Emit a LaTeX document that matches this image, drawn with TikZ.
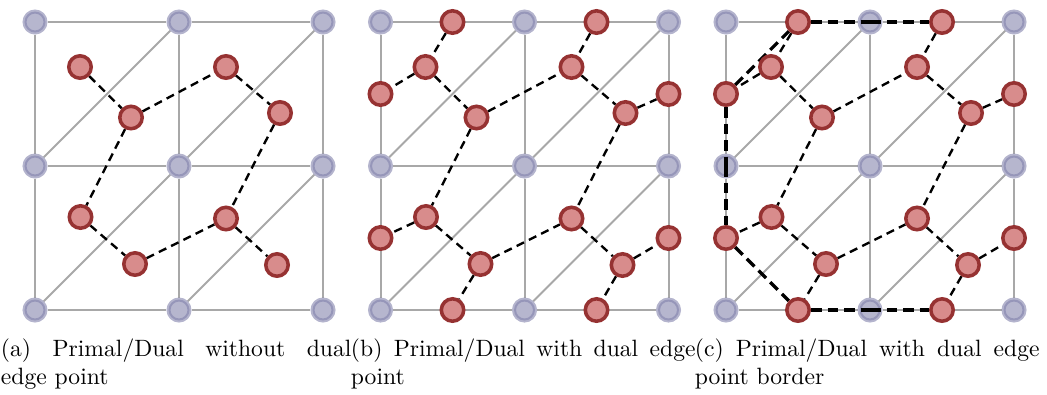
\documentclass[tikz,border=0pt]{standalone}
\pgfdeclarelayer{gridlayer}
\pgfdeclarelayer{primlayer}
\pgfsetlayers{gridlayer,primlayer,main}
\definecolor{primfill}{RGB}{182,182,206}
\definecolor{primdraw}{RGB}{130,130,172}
\definecolor{dualfill}{RGB}{216,140,140}
\definecolor{dualdraw}{RGB}{150,50,50}
\definecolor{gridgray}{RGB}{168,168,168}
\tikzset{
  primal/.style={circle, inner sep=0pt, minimum size=8.9pt, fill=primfill, draw=primdraw, draw opacity=0.6, line width=1.7pt},
  dualpt/.style={circle, inner sep=0pt, minimum size=9.5pt, fill=dualfill, draw=dualdraw, line width=1.5pt},
  gridline/.style={draw=gridgray, line width=0.85pt},
  dualedge/.style={draw=black, line width=1pt, dash pattern=on 3.5pt off 2.3pt},
  borderedge/.style={draw=black, line width=1.35pt, dash pattern=on 4.5pt off 2.5pt},
  capt/.style={anchor=north west, inner sep=0pt, text width=146pt, align=justify, font=\fontsize{10pt}{11.8pt}\selectfont}
}
\newcommand\basepanel{%
  \begin{pgfonlayer}{primlayer}
    \foreach \c in {0,1,2}{\foreach \r in {0,1,2}{%
      \node[primal] (p\c\r) at ({35+144*\c},{22+144*\r}) {};}}
  \end{pgfonlayer}
  \node[dualpt] (ul1) at (80,67) {};
  \node[dualpt] (lr1) at (131,117.5) {};
  \node[dualpt] (ul2) at (226,67) {};
  \node[dualpt] (lr2) at (280,113) {};
  \node[dualpt] (ul3) at (80.5,217) {};
  \node[dualpt] (lr3) at (135,264) {};
  \node[dualpt] (ul4) at (226,218.5) {};
  \node[dualpt] (lr4) at (277,265) {};
  \begin{pgfonlayer}{gridlayer}
    \foreach \r in {0,1,2}{\draw[gridline] (p0\r) -- (p1\r); \draw[gridline] (p1\r) -- (p2\r);}
    \foreach \c in {0,1,2}{\draw[gridline] (p\c0) -- (p\c1); \draw[gridline] (p\c1) -- (p\c2);}
    \draw[gridline] (p01) -- (p10);
    \draw[gridline] (p11) -- (p20);
    \draw[gridline] (p02) -- (p11);
    \draw[gridline] (p12) -- (p21);
  \end{pgfonlayer}
  \begin{pgfonlayer}{primlayer}
    \draw[dualedge] (ul1) -- (lr1);
    \draw[dualedge] (lr1) -- (ul2);
    \draw[dualedge] (ul2) -- (lr2);
    \draw[dualedge] (lr1) -- (ul3);
    \draw[dualedge] (lr2) -- (ul4);
    \draw[dualedge] (ul3) -- (lr3);
    \draw[dualedge] (lr3) -- (ul4);
    \draw[dualedge] (ul4) -- (lr4);
  \end{pgfonlayer}
}
\newcommand\edgepoints{%
  \node[dualpt] (t1) at (107,22) {};
  \node[dualpt] (t2) at (251,22) {};
  \node[dualpt] (l1) at (35,94) {};
  \node[dualpt] (l2) at (35,238) {};
  \node[dualpt] (r1) at (323,94) {};
  \node[dualpt] (r2) at (323,238) {};
  \node[dualpt] (b1) at (107,310) {};
  \node[dualpt] (b2) at (251,310) {};
  \begin{pgfonlayer}{primlayer}
    \draw[dualedge] (t1) -- (ul1);
    \draw[dualedge] (ul1) -- (l1);
    \draw[dualedge] (t2) -- (ul2);
    \draw[dualedge] (lr2) -- (r1);
    \draw[dualedge] (ul3) -- (l2);
    \draw[dualedge] (lr3) -- (b1);
    \draw[dualedge] (lr4) -- (r2);
    \draw[dualedge] (lr4) -- (b2);
  \end{pgfonlayer}
}
\begin{document}
\begin{tikzpicture}[x=0.4237pt, y=-0.4237pt]
  \useasboundingbox (0,0) rectangle (1047,394);
  \begin{scope}[name prefix=a-]
    \basepanel
  \end{scope}
  \begin{scope}[shift={(345.5,0)}, name prefix=b-]
    \basepanel
    \edgepoints
  \end{scope}
  \begin{scope}[shift={(691,0)}, name prefix=c-]
    \basepanel
    \edgepoints
    \begin{pgfonlayer}{primlayer}
      \draw[borderedge] (l1) -- (t1);
      \draw[borderedge] (t1) -- (p10.center);
      \draw[borderedge] (p10.center) -- (t2);
      \draw[borderedge] (l1) -- (p01.center);
      \draw[borderedge] (p01.center) -- (l2);
      \draw[borderedge] (l2) -- (b1);
      \draw[borderedge] (b1) -- (p12.center);
      \draw[borderedge] (p12.center) -- (b2);
    \end{pgfonlayer}
  \end{scope}
  \node[capt, text width=148.5pt] (capa) at (0.5,338) {(a) Primal/Dual without dual edge point};
  \node[capt] (capb) at (350.5,338) {(b) Primal/Dual with dual edge point};
  \node[capt] (capc) at (694.5,338) {(c) Primal/Dual with dual edge point border};
\end{tikzpicture}
\end{document}
